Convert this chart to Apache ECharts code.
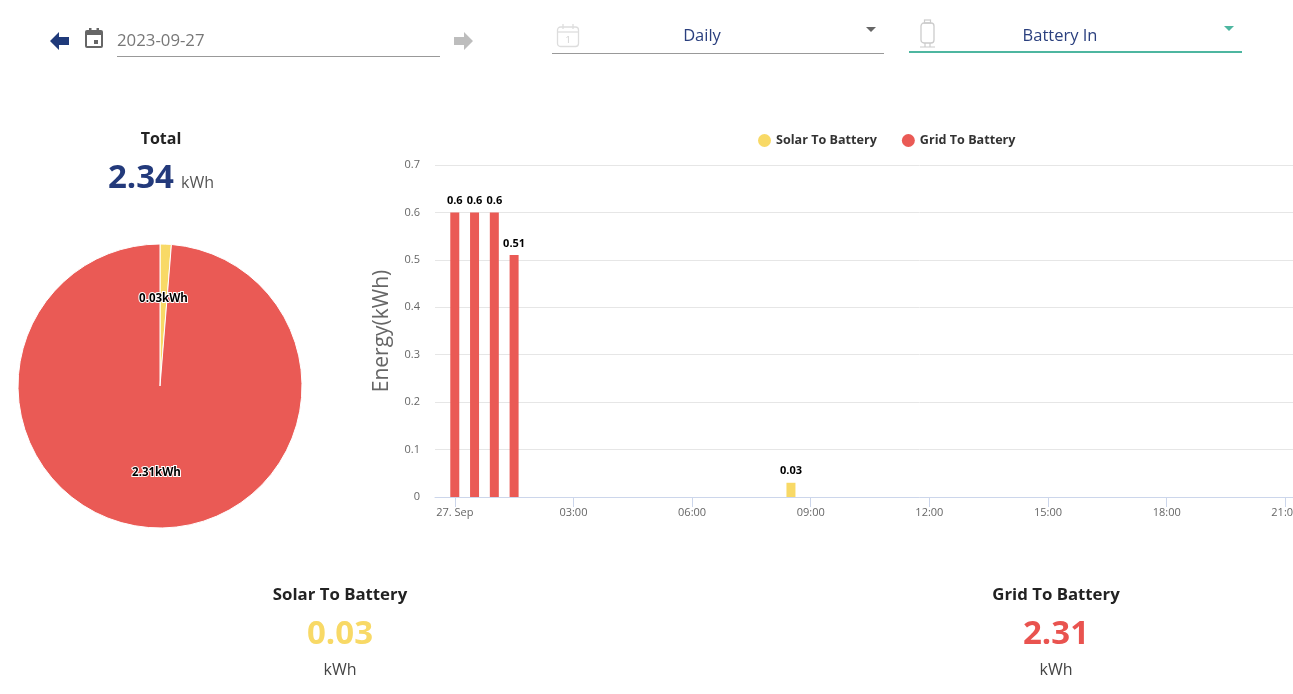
<!DOCTYPE html>
<html>
<head>
<meta charset="utf-8">
<script src="https://cdn.jsdelivr.net/npm/echarts@6/dist/echarts.min.js"></script>
<style>
  html, body { margin: 0; padding: 0; width: 1293px; height: 694px; overflow: hidden; background: #fff; font-family: "Open Sans", sans-serif; }
  .abs { position: absolute; }
  #chart { position: absolute; left: 0; top: 0; width: 1440px; height: 694px; }
  .ctr { transform: translateX(-50%); white-space: nowrap; text-align: center; }
  .ttl { font-size: 16px; font-weight: 700; color: #222; }
  .big { font-size: 33px; font-weight: 700; }
  .unit { font-size: 16px; color: #444; }
  .sel { font-size: 16.5px; color: #2a3f7e; }
</style>
</head>
<body>
<div id="chart"></div>

<!-- top controls -->
<svg class="abs" style="left:49px;top:31px" width="22" height="20" viewBox="0 0 22 20">
  <path d="M1 10 L10 1 L10 6 L20 6 L20 14 L10 14 L10 19 Z" fill="#1f3a7a"/>
</svg>
<svg class="abs" style="left:84px;top:27px" width="20" height="22" viewBox="0 0 20 22">
  <rect x="1" y="3" width="18" height="18" rx="2" fill="#666"/>
  <rect x="3" y="8" width="14" height="11" fill="#fff"/>
  <rect x="5" y="1" width="2.5" height="4" fill="#666"/>
  <rect x="12.5" y="1" width="2.5" height="4" fill="#666"/>
  <rect x="10" y="13" width="4" height="4" fill="#666"/>
</svg>
<div class="abs" style="left:117px;top:28px;font-size:16.8px;color:#777;line-height:24px">2023-09-27</div>
<div class="abs" style="left:117px;top:56px;width:323px;height:1px;background:#999"></div>
<svg class="abs" style="left:452px;top:31px" width="22" height="20" viewBox="0 0 22 20">
  <path d="M21 10 L12 1 L12 6 L2 6 L2 14 L12 14 L12 19 Z" fill="#bdbdbd"/>
</svg>

<svg class="abs" style="left:556px;top:23px" width="24" height="25" viewBox="0 0 24 25">
  <rect x="1.5" y="4" width="21" height="19.5" rx="3" fill="none" stroke="#ddd" stroke-width="1.3"/>
  <line x1="1.5" y1="9" x2="22.5" y2="9" stroke="#ddd" stroke-width="1.3"/>
  <line x1="7" y1="1" x2="7" y2="6" stroke="#ddd" stroke-width="1.3"/>
  <line x1="17" y1="1" x2="17" y2="6" stroke="#ddd" stroke-width="1.3"/>
  <text x="12" y="20" font-size="9" fill="#ccc" text-anchor="middle" font-family="Open Sans">1</text>
</svg>
<div class="abs ctr sel" style="left:702px;top:23px;line-height:24px">Daily</div>
<div class="abs" style="left:866px;top:27px;width:0;height:0;border-left:5px solid transparent;border-right:5px solid transparent;border-top:5px solid #666"></div>
<div class="abs" style="left:552px;top:53px;width:332px;height:1px;background:#999"></div>

<svg class="abs" style="left:917px;top:19px" width="22" height="30" viewBox="0 0 22 30">
  <rect x="4" y="4" width="13" height="20" rx="3" fill="none" stroke="#ccc" stroke-width="1.3"/>
  <rect x="7.5" y="1" width="6" height="3" fill="none" stroke="#ccc" stroke-width="1.2"/>
  <path d="M8 24 L8 28 M13 24 L13 28 M3 28 L18 28" stroke="#ccc" stroke-width="1.2" fill="none"/>
</svg>
<div class="abs ctr sel" style="left:1060px;top:23px;line-height:24px">Battery In</div>
<div class="abs" style="left:1224px;top:26px;width:0;height:0;border-left:5px solid transparent;border-right:5px solid transparent;border-top:5px solid #4db6a0"></div>
<div class="abs" style="left:909px;top:51px;width:333px;height:2px;background:#4db6a0"></div>

<!-- total -->
<div class="abs ctr ttl" style="left:161px;top:127px;line-height:22px">Total</div>
<div class="abs ctr" style="left:161px;top:154px;line-height:44px">
  <span class="big" style="color:#233a7b">2.34</span>
  <span class="unit" style="color:#555;margin-left:3px">kWh</span>
</div>

<!-- summaries -->
<div class="abs ctr ttl" style="left:340px;top:583px;line-height:22px;font-size:16.8px">Solar To Battery</div>
<div class="abs ctr big" style="left:340px;top:610px;line-height:44px;color:#f8d966">0.03</div>
<div class="abs ctr unit" style="left:340px;top:657px;line-height:24px">kWh</div>

<div class="abs ctr ttl" style="left:1056px;top:583px;line-height:22px;font-size:16.8px">Grid To Battery</div>
<div class="abs ctr big" style="left:1056px;top:610px;line-height:44px;color:#e9534f">2.31</div>
<div class="abs ctr unit" style="left:1056px;top:657px;line-height:24px">kWh</div>

<script>
// series names and colours
const seriesNames = ['Solar To Battery', 'Grid To Battery'];
const seriesColors = ['#f8d966', '#ea5a55'];

// totals for the pie (kWh)
const pieTotals = [0.03, 2.31];

// half-hour readings on 27 Sep (time, kWh)
const solarTimes = ['08:30'];
const solarValues = [0.03];
const gridTimes = ['00:00', '00:30', '01:00', '01:30'];
const gridValues = [0.6, 0.6, 0.6, 0.51];

// x ticks, in hours of the day
const hourTicks = [0, 3, 6, 9, 12, 15, 18, 21];
const dayLabel = '27. Sep';

const toHours = t => { const [h, m] = t.split(':').map(Number); return h + m / 60; };
const pairs = (times, vals) => times.map((t, i) => [toHours(t), vals[i]]);

const chart = echarts.init(document.getElementById('chart'));
const barLabel = {
  show: true, position: 'top', distance: 6,
  color: '#000', fontSize: 11, fontWeight: 'bold', fontFamily: 'Open Sans',
  textBorderColor: '#fff', textBorderWidth: 2
};

chart.setOption({
  animation: false,
  textStyle: { fontFamily: 'Open Sans' },
  legend: {
    top: 129, left: 753,
    itemWidth: 13, itemHeight: 13, itemGap: 25, icon: 'circle',
    textStyle: { fontSize: 12.6, fontWeight: 'bold', color: '#333' },
    data: seriesNames
  },
  grid: { left: 435, top: 165, width: 969, height: 332 },
  xAxis: {
    type: 'value', min: -0.5, max: 24,
    axisLine: { lineStyle: { color: '#ccd6eb' } },
    axisTick: { show: true, length: 10, lineStyle: { color: '#ccd6eb' }, customValues: hourTicks },
    axisLabel: {
      color: '#666', fontSize: 11, margin: 10, customValues: hourTicks,
      formatter: v => v === 0 ? dayLabel : String(v).padStart(2, '0') + ':00'
    },
    splitLine: { show: false }
  },
  yAxis: {
    type: 'value', min: 0, max: 0.7, interval: 0.1,
    name: 'Energy(kWh)', nameLocation: 'middle', nameGap: 42,
    nameTextStyle: { fontSize: 21, color: '#666' },
    axisLine: { show: false }, axisTick: { show: false },
    axisLabel: { color: '#666', fontSize: 11, margin: 15 },
    splitLine: { lineStyle: { color: '#e6e6e6' } }
  },
  series: [
    {
      name: seriesNames[0], type: 'bar', barWidth: 9, barGap: '-100%',
      itemStyle: { color: seriesColors[0] },
      label: barLabel,
      data: pairs(solarTimes, solarValues)
    },
    {
      name: seriesNames[1], type: 'bar', barWidth: 9, barGap: '-100%',
      itemStyle: { color: seriesColors[1] },
      label: barLabel,
      data: pairs(gridTimes, gridValues)
    },
    {
      type: 'pie', center: [160, 386], radius: [0, 142],
      startAngle: 90, clockwise: true, silent: true,
      label: { show: false }, labelLine: { show: false },
      itemStyle: { borderColor: '#fff', borderWidth: 1 },
      data: seriesNames.map((n, i) => ({ name: n, value: pieTotals[i], itemStyle: { color: seriesColors[i] } }))
    },
    {
      // label layer for the pie
      type: 'pie', center: [160, 386], radius: [0, 168],
      startAngle: 90, clockwise: true, silent: true,
      itemStyle: { color: 'rgba(0,0,0,0)' },
      label: {
        show: true, position: 'inside', formatter: p => p.value + 'kWh',
        color: '#000', fontSize: 11.5, fontWeight: 'bold',
        textBorderColor: '#fff', textBorderWidth: 2
      },
      labelLine: { show: false },
      data: seriesNames.map((n, i) => ({ name: n + ' ', value: pieTotals[i] }))
    }
  ]
});
</script>
</body>
</html>
